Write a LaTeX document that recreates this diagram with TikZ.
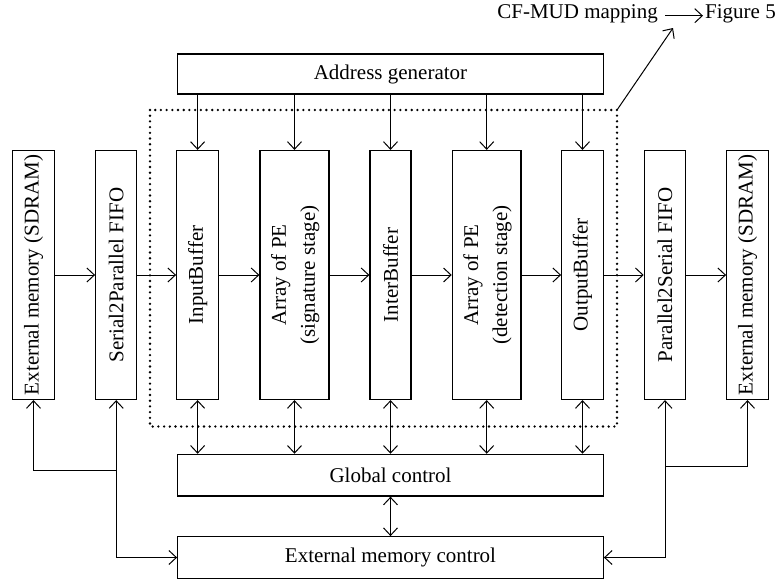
\documentclass[tikz,border=0pt]{standalone}
\usepackage{fontspec}
\setmainfont{Liberation Serif}
\usepackage{graphicx}
\usetikzlibrary{arrows.meta,calc}
\begin{document}
\begin{tikzpicture}[x=1pt,y=-1pt,
  txt/.style={font=\fontsize{21}{29}\selectfont},
  blk/.style={draw, line width=1.2pt, inner sep=0pt, txt},
  tip/.style={},
  con/.style={line width=1pt, -{Straight Barb[length=7.5pt,width=14pt,line width=1pt]}},
  bicon/.style={line width=1pt, {Straight Barb[length=7.5pt,width=14pt,line width=1pt]}-{Straight Barb[length=7.5pt,width=14pt,line width=1pt]}},
  frame/.style={line width=2.6pt, dash pattern=on 0pt off 5.7pt, line cap=round}
]
\useasboundingbox (0,0) rectangle (777,581);

% horizontal blocks
\node[blk, minimum width=426pt, minimum height=40pt] (addr) at (390.5,74) {Address generator};
\node[blk, minimum width=425.6pt, minimum height=41.7pt] (glob) at (390.5,475.2) {Global control};
\node[blk, minimum width=425.6pt, minimum height=41.6pt] (emc) at (390.5,557.5) {External memory control};

% vertical blocks
\node[blk, minimum width=41.6pt, minimum height=249pt] (extl) at (33.5,275) {\rotatebox{90}{External memory (SDRAM)}};
\node[blk, minimum width=41pt, minimum height=249pt] (s2p) at (116.2,275) {\rotatebox{90}{Serial2Parallel FIFO}};
\node[blk, minimum width=41.8pt, minimum height=249pt] (ib) at (197.6,275) {\rotatebox{90}{InputBuffer}};
\node[blk, minimum width=69pt, minimum height=249pt] (sig) at (294.5,275) {\rotatebox{90}{\begin{tabular}{@{}c@{}}Array of PE\\(signature stage)\end{tabular}}};
\node[blk, minimum width=41pt, minimum height=249pt] (inter) at (390.5,275) {\rotatebox{90}{InterBuffer}};
\node[blk, minimum width=68.7pt, minimum height=249pt] (det) at (486.7,275) {\rotatebox{90}{\begin{tabular}{@{}c@{}}Array of PE\\(detection stage)\end{tabular}}};
\node[blk, minimum width=41.6pt, minimum height=249pt] (ob) at (582.5,275) {\rotatebox{90}{OutputBuffer}};
\node[blk, minimum width=41.4pt, minimum height=249pt] (p2s) at (665,275) {\rotatebox{90}{Parallel2Serial FIFO}};
\node[blk, minimum width=41.6pt, minimum height=249pt] (extr) at (747.5,275) {\rotatebox{90}{External memory (SDRAM)}};

% dotted frame
\draw[frame] (150,110) rectangle (617,426.5);
\coordinate (fc) at (617,110);

% CF-MUD label
\node[txt, inner sep=0pt, anchor=base east] (cfm) at (658,18) {CF-MUD mapping};
\node[txt, inner sep=0pt, anchor=base west] (fig) at (705,18) {Figure 5};
\draw[con, shorten <=7pt, shorten >=2pt] (cfm.mid east) -- (fig.mid west);
\coordinate (dt) at (673,28);
\draw[con] (fc) -- (dt);

% address generator arrows
\foreach \n in {ib,sig,inter,det,ob}
  \draw[con] (addr.south -| \n.north) -- (\n.north);

% data path
\draw[con] (extl.east) -- (s2p.west);
\draw[con] (s2p.east) -- (ib.west);
\draw[con] (ib.east) -- (sig.west);
\draw[con] (sig.east) -- (inter.west);
\draw[con] (inter.east) -- (det.west);
\draw[con] (det.east) -- (ob.west);
\draw[con] (ob.east) -- (p2s.west);
\draw[con] (p2s.east) -- (extr.west);

% global control links
\foreach \n in {ib,sig,inter,det,ob}
  \draw[bicon] (\n.south) -- (\n.south |- glob.north);
\draw[bicon] (glob.south) -- (emc.north);

% external memory control links
\coordinate (jl) at (116.2,470.5);
\coordinate (jr) at (665,466.5);
\draw[bicon] (s2p.south) |- (emc.west);
\draw[con] (jl) -| (extl.south);
\draw[bicon] (p2s.south) |- (emc.east);
\draw[con] (jr) -| (extr.south);
\end{tikzpicture}
\end{document}
